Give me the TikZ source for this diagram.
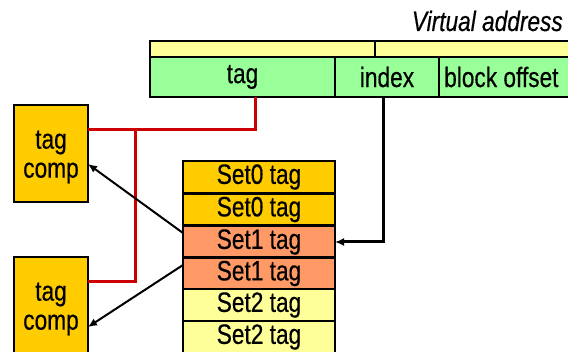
\documentclass[tikz,border=0pt]{standalone}
\usepackage{fontspec}
\setmainfont[FakeStretch=0.81, FakeBold=0.4]{Liberation Sans}
\usetikzlibrary{arrows.meta}
\definecolor{addrgreen}{HTML}{99FF99}
\definecolor{paleyellow}{HTML}{FFFF99}
\definecolor{gold}{HTML}{FFCC00}
\definecolor{salmon}{HTML}{FF9966}
\definecolor{wirered}{HTML}{CC0000}
\newcommand{\labelsize}{\fontsize{28}{29}\selectfont}
\tikzset{
  cell/.style={draw=black, line width=2.8pt, inner sep=0pt, outer sep=0pt,
    font=\labelsize},
  wire/.style={draw=wirered, line width=3pt},
  ptr/.style={draw=black, line width=2pt, -{Latex[length=9pt,width=8pt]}},
}
\begin{document}
\begin{tikzpicture}[x=1pt, y=-1pt]
\useasboundingbox (0,0) rectangle (568,352);
\clip (0,0) rectangle (568,352);
% caption
\node[anchor=base east, font=\labelsize\itshape, inner sep=0pt] (title) at (563,31) {Virtual address};
% address bar
\node[cell, fill=paleyellow, minimum width=225pt, minimum height=16pt] (hi) at (262.5,49) {};
\node[cell, fill=paleyellow, minimum width=225pt, minimum height=16pt] (lo) at (487.5,49) {};
\node[cell, fill=addrgreen, minimum width=185pt, minimum height=40pt] (tag) at (242.5,77) {tag};
\node[cell, fill=addrgreen, minimum width=104pt, minimum height=40pt] (index) at (387,77) {index};
\node[cell, fill=addrgreen, minimum width=161pt, minimum height=40pt] (offset) at (519.5,77) {};
\node[anchor=west, inner sep=0pt, font=\labelsize] (offtxt) at (444,77) {block offset};
% comparators
\node[cell, fill=gold, minimum width=74pt, minimum height=97pt, align=center] (comp1) at (51,153.5) {};
\node[align=center, font=\labelsize, inner sep=0pt] (comp1txt) at (51,157) {tag\\comp};
\node[cell, fill=gold, minimum width=74pt, minimum height=97pt, align=center] (comp2) at (51,305.5) {};
\node[align=center, font=\labelsize, inner sep=0pt] (comp2txt) at (51,309) {tag\\comp};
% tag array
\node[cell, fill=gold, minimum width=152pt, minimum height=32pt] (s0a) at (259,177) {Set0 tag};
\node[cell, fill=gold, minimum width=152pt, minimum height=32pt] (s0b) at (259,209.5) {Set0 tag};
\node[cell, fill=salmon, minimum width=152pt, minimum height=32pt] (s1a) at (259,242) {Set1 tag};
\node[cell, fill=salmon, minimum width=152pt, minimum height=32pt] (s1b) at (259,273.5) {Set1 tag};
\node[cell, fill=paleyellow, minimum width=152pt, minimum height=32pt] (s2a) at (259,305) {Set2 tag};
\node[cell, fill=paleyellow, minimum width=152pt, minimum height=32pt] (s2b) at (259,337) {Set2 tag};
% wire points
\coordinate (tap) at (255,97);
\coordinate (c1in) at (88,130);
\coordinate (j1) at (135,130);
\coordinate (c2in) at (88,282);
\coordinate (idxtap) at (383,97);
\coordinate (o1) at (183,233);
\coordinate (o2) at (183,265);
\coordinate (i1) at (88,164);
\coordinate (i2) at (88,327);
% tag field to both comparators
\draw[wire] (tap) |- (c1in);
\draw[wire] (j1) |- (c2in);
% index selects the set
\draw[ptr, line width=3pt] (idxtap) |- (s1a.east);
% stored tags to comparators
\draw[ptr] (o1) -- (i1);
\draw[ptr] (o2) -- (i2);
\end{tikzpicture}
\end{document}
